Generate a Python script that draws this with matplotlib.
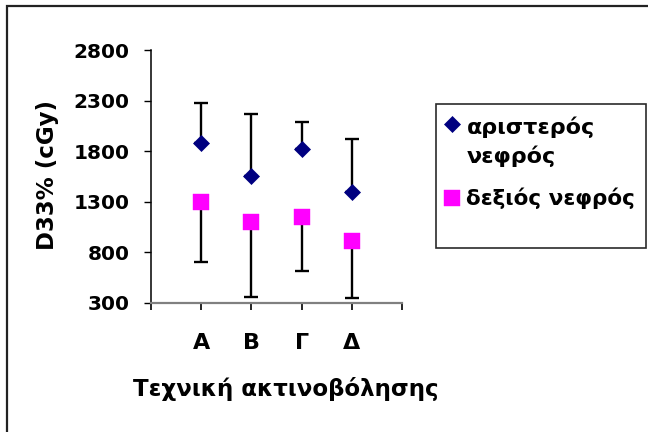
import matplotlib
matplotlib.use("Agg")
import matplotlib.pyplot as plt
import matplotlib.transforms as mtransforms
from matplotlib.lines import Line2D
from matplotlib.patches import Rectangle

# Data: D33% dose per irradiation technique (cGy)
techniques = ["Α", "Β", "Γ", "Δ"]
left_kidney = [1880, 1550, 1820, 1400]
left_err_up = [400, 620, 270, 520]
right_kidney = [1300, 1100, 1150, 910]
right_err_down = [600, 740, 540, 560]
y_ticks = [300, 800, 1300, 1800, 2300, 2800]
series_labels = ["αριστερός\nνεφρός", "δεξιός νεφρός"]

W, H = 648, 432
plt.rcParams["font.family"] = ["DejaVu Sans"]
plt.rcParams["font.weight"] = "bold"

fig = plt.figure(figsize=(W / 100, H / 100), dpi=100)
fig.patch.set_facecolor("white")

# pixel transform with origin at top-left
px = mtransforms.Affine2D().scale(1 / W, -1 / H).translate(0, 1) + fig.transFigure

# plot area
x0, x1, y0, y1 = 150.7, 402.3, 50.0, 302.7
ax = fig.add_axes([x0 / W, 1 - y1 / H, (x1 - x0) / W, (y1 - y0) / H])
ax.set_facecolor("white")

xs = list(range(1, len(techniques) + 1))

ax.errorbar(xs, left_kidney, yerr=[[0] * len(xs), left_err_up], fmt="none",
            ecolor="black", elinewidth=1.7, capsize=5, capthick=1.7, zorder=2)
ax.errorbar(xs, right_kidney, yerr=[right_err_down, [0] * len(xs)], fmt="none",
            ecolor="black", elinewidth=1.7, capsize=5, capthick=1.7, zorder=2)

diamond_style = dict(marker="D", markersize=7.8, markerfacecolor="#000080",
                     markeredgecolor="#000080", markeredgewidth=0.5, linestyle="none")
square_style = dict(marker="s", markersize=11, markerfacecolor="#FF00FF",
                    markeredgecolor="#FF00FF", markeredgewidth=0.3, linestyle="none")

ax.plot(xs, left_kidney, zorder=3, **diamond_style)
ax.plot(xs, right_kidney, zorder=3, **square_style)

ax.set_xlim(0, len(techniques) + 1)
ax.set_ylim(y_ticks[0], y_ticks[-1])
ax.set_yticks(y_ticks)
ax.set_yticklabels([str(v) for v in y_ticks])
ax.set_xticks(range(0, len(techniques) + 2))
ax.set_xticklabels([""] + techniques + [""])

for side in ("top", "right"):
    ax.spines[side].set_visible(False)
ax.spines["left"].set_color("black")
ax.spines["left"].set_linewidth(1.1)
ax.spines["bottom"].set_color("#808080")
ax.spines["bottom"].set_linewidth(1.6)

ax.tick_params(axis="y", direction="out", length=5, width=1, color="black",
               labelsize=14.5, pad=10)
ax.tick_params(axis="x", direction="out", length=5, width=1.2, color="black",
               labelsize=16, pad=17)
for lab in ax.get_xticklabels() + ax.get_yticklabels():
    lab.set_fontweight("bold")

# axis titles
fig.text(48, 175, "D33% (cGy)", transform=px, rotation=90, ha="center", va="center",
         fontsize=16.5, fontweight="bold")
fig.text(286, 389, "Τεχνική ακτινοβόλησης", transform=px, ha="center", va="center",
         fontsize=16.5, fontweight="bold")

# legend box
fig.add_artist(Rectangle((435.5, 104), 210.5, 144, transform=px, facecolor="white",
                         edgecolor="#2a2a2a", linewidth=1.2))
fig.add_artist(Line2D([452], [124], transform=px, **diamond_style))
fig.add_artist(Line2D([452], [198], transform=px, **square_style))
first, second = series_labels[0].split("\n")
fig.text(466.5, 134.5, first, transform=px, ha="left", va="baseline",
         fontsize=16, fontweight="bold")
fig.text(466.5, 163, second, transform=px, ha="left", va="baseline",
         fontsize=16, fontweight="bold")
fig.text(466.5, 205, series_labels[1], transform=px, ha="left", va="baseline",
         fontsize=15.5, fontweight="bold")

# chart area border
fig.add_artist(Line2D([7, 7, W], [H, 5.5, 5.5], transform=px, color="#222222",
                      linewidth=1.6, solid_joinstyle="miter"))

fig.savefig("out.png", dpi=100, facecolor="white")
